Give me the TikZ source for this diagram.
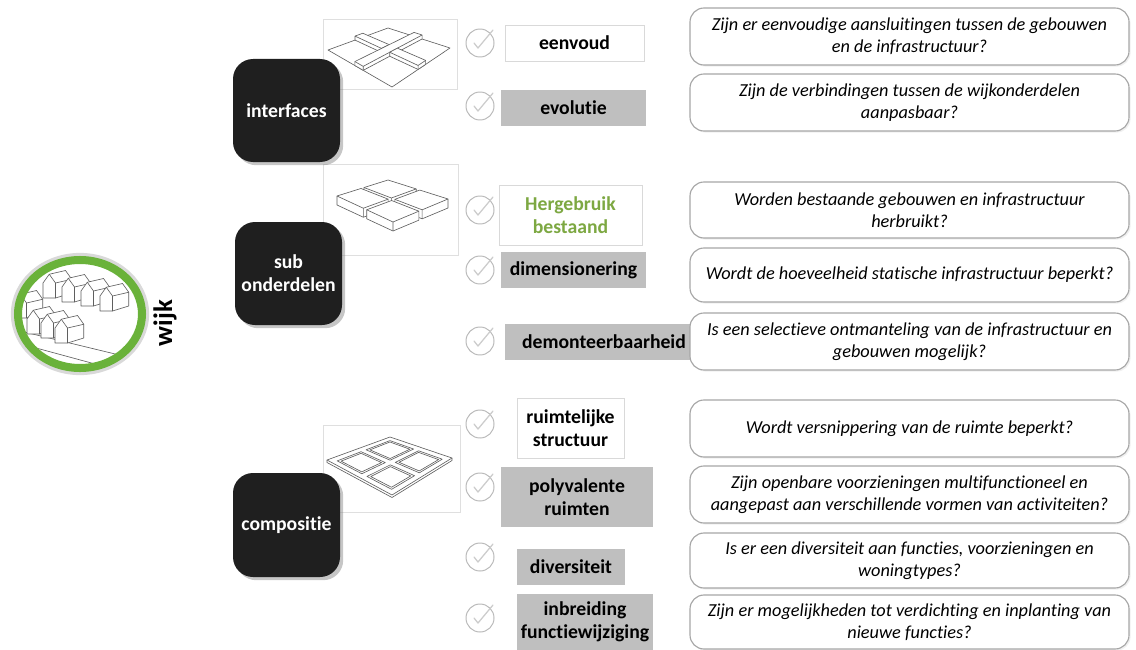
\documentclass[tikz,border=0pt]{standalone}
\usepackage{fontspec}
\setmainfont{Carlito}[Ligatures=NoCommon]
\usetikzlibrary{calc,shadows}
\definecolor{ringgroen}{RGB}{106,178,58}
\definecolor{tekstgroen}{RGB}{125,168,66}
\definecolor{vakgrijs}{RGB}{191,191,191}
\definecolor{lijngrijs}{RGB}{95,95,95}
% point (s,t) on a skewed sketch plane with corners #1L,#1T,#1R,#1B
\newcommand\sk[3]{($($(#1L)!#2!(#1T)$)!#3!($(#1B)!#2!(#1R)$)$)}
% block between foot plane #1 and top plane #2, over s=#3..#5, t=#4..#6
\newcommand\blok[6]{%
  \filldraw[schets,fill=white] \sk{#2}{#3}{#4} -- \sk{#1}{#3}{#4} -- \sk{#1}{#3}{#6} -- \sk{#1}{#5}{#6}
    -- \sk{#2}{#5}{#6} -- \sk{#2}{#5}{#4} -- cycle;
  \draw[schets] \sk{#2}{#3}{#4} -- \sk{#2}{#3}{#6} -- \sk{#2}{#5}{#6} \sk{#2}{#3}{#6} -- \sk{#1}{#3}{#6};}
\begin{document}
\begin{tikzpicture}[x=.025cm,y=-.025cm,line width=.6pt,
  every node/.style={inner sep=0pt,align=center},
  sz/.style 2 args={minimum width=#1*.025cm,minimum height=#2*.025cm},
  hoofd/.style={fill=black!88,rounded corners=.5cm,text=white,font=\fontsize{14}{16.5}\selectfont\bfseries,
    drop shadow={shadow xshift=.08cm,shadow yshift=-.08cm,opacity=.45}},
  crit/.style={font=\fontsize{14}{16.5}\selectfont\bfseries},
  wit/.style={crit,draw=gray!30,fill=white,line width=.5pt},
  grijs/.style={crit,fill=vakgrijs},
  vraag/.style={draw=gray!70,fill=white,rounded corners=.35cm,line width=.8pt,
    font=\fontsize{13}{15.6}\selectfont\itshape,
    drop shadow={shadow xshift=.04cm,shadow yshift=-.04cm,opacity=.12}},
  kader/.style={draw=gray!25,line width=.5pt},
  schets/.style={draw=lijngrijs,line width=.45pt,line join=round},
  vink/.style={circle,draw=gray!55,line width=.7pt,minimum size=28*.025cm},
  vinkje/.style={gray!40,line width=.9pt,line cap=round,line join=round},
  huis/.pic={
    \filldraw[schets,fill=white] (0,0) -- (0,-12) -- (5,-19) -- (18,-22) -- (23,-15) -- (23,-4) -- (10,0) -- cycle;
    \draw[schets] (10,0) -- (10,-12) -- (5,-19) (10,-12) -- (23,-15);}]
  \path[use as bounding box] (0,0) rectangle (1136,650);

  % wijk icon
  \draw[gray!30,line width=3pt] (80,314) ellipse [x radius=67,y radius=59];
  \fill[white] (80,314) ellipse [x radius=62,y radius=54];
  \begin{scope}
    \clip (80,314) ellipse [x radius=62,y radius=54];
    \draw[schets] (16,330) -- (140,360) (14,342) -- (132,374);
    \foreach \p in {(43,298),(62,302),(81,306),(100,311),(14,318),(27,334),(41,338),(55,343)}
      \pic[scale=1.25] at \p {huis};
  \end{scope}
  \draw[ringgroen,line width=5.7pt] (80,314) ellipse [x radius=62,y radius=54];
  \node[rotate=90,font=\fontsize{19}{22}\selectfont\bfseries] (wijk) at (165,323) {wijk};

  % sketch frames
  \draw[kader] (323,19) rectangle (457,89);
  \draw[kader] (323,164) rectangle (458,255);
  \draw[kader] (323,425) rectangle (460,512);

  % crossing strips
  \coordinate (aL) at (328,50); \coordinate (aT) at (388,28);
  \coordinate (aR) at (450,48); \coordinate (aB) at (392,87);
  \foreach \c in {L,T,R,B} \coordinate (b\c) at ($(a\c)+(0,-4)$);
  \draw[schets] (aL) -- (aT) -- (aR) -- (aB) -- cycle;
  \blok{a}{b}{.45}{0}{.58}{.42}
  \blok{a}{b}{0}{.42}{1}{.55}
  \blok{a}{b}{.45}{.55}{.58}{1}

  % four tiles
  \coordinate (cL) at (337,196); \coordinate (cT) at (388,180);
  \coordinate (cR) at (448,199); \coordinate (cB) at (393,222);
  \foreach \c in {L,T,R,B} \coordinate (d\c) at ($(c\c)+(0,9)$);
  \blok{d}{c}{.53}{0}{1}{.47}
  \blok{d}{c}{0}{0}{.47}{.47}
  \blok{d}{c}{.53}{.53}{1}{1}
  \blok{d}{c}{0}{.53}{.47}{1}

  % flat grid
  \coordinate (eL) at (327,460); \coordinate (eT) at (390,437);
  \coordinate (eR) at (452,458); \coordinate (eB) at (392,495);
  \foreach \c in {L,T,R,B} \coordinate (f\c) at ($(e\c)+(0,2.5)$);
  \draw[schets] (eL) -- (eT) -- (eR) -- (eB) -- cycle;
  \draw[schets] (eL) -- (fL) -- (fB) -- (fR) -- (eR);
  \foreach \sa/\ta/\sb/\tb in {.08/.08/.46/.46,.54/.08/.92/.46,.08/.54/.46/.92,.54/.54/.92/.92,
                                .11/.11/.43/.43,.57/.11/.89/.43,.11/.57/.43/.89,.57/.57/.89/.89}
    \draw[schets] \sk{e}{\sa}{\ta} -- \sk{e}{\sb}{\ta} -- \sk{e}{\sb}{\tb} -- \sk{e}{\sa}{\tb} -- cycle;

  % main groups
  \node[hoofd,sz={107}{103}] (interfaces) at (286.5,110.5) {interfaces};
  \node[hoofd,sz={107}{103}] (sub) at (288.5,273.5) {sub\\onderdelen};
  \node[hoofd,sz={107}{104}] (compositie) at (286.5,525) {compositie};

  % check marks
  \foreach \y [count=\i] in {43,106,210,270,341,424,487,557,618} {
    \node[vink] (v\i) at (480,\y) {};
    \draw[vinkje] ($(v\i)+(-6,0)$) -- ($(v\i)+(-2,5)$) -- ($(v\i)+(13,-13)$);
  }

  % criteria
  \node[wit,sz={139}{36}] (eenvoud) at (574.5,43) {eenvoud};
  \node[grijs,sz={145}{36}] (evolutie) at (573.5,108) {evolutie};
  \node[wit,sz={143}{60},text=tekstgroen] (hergebruik) at (570.5,215) {Hergebruik\\bestaand};
  \node[grijs,sz={145}{36}] (dimensionering) at (573.5,270) {dimensionering};
  \node[grijs,sz={198}{36}] (demonteer) at (604,342) {demonteerbaarheid};
  \node[wit,sz={107}{60}] (ruimtelijk) at (570.5,428) {ruimtelijke\\structuur};
  \node[grijs,sz={152}{60}] (polyvalent) at (577,497) {polyvalente\\ruimten};
  \node[grijs,sz={108}{36}] (diversiteit) at (571,567) {diversiteit};
  \node[grijs,sz={136}{56}] (inbreiding) at (585,622) {inbreiding\\functiewijziging};

  % questions
  \node[vraag,sz={439}{57}] (q1) at (909.5,36.5) {Zijn er eenvoudige aansluitingen tussen de gebouwen\\en de infrastructuur?};
  \node[vraag,sz={439}{57}] (q2) at (909.5,102.5) {Zijn de verbindingen tussen de wijkonderdelen\\aanpasbaar?};
  \node[vraag,sz={439}{56}] (q3) at (909.5,210) {Worden bestaande gebouwen en infrastructuur\\herbruikt?};
  \node[vraag,sz={439}{54}] (q4) at (909.5,275) {Wordt de hoeveelheid statische infrastructuur beperkt?};
  \node[vraag,sz={439}{57}] (q5) at (909.5,341.5) {Is een selectieve ontmanteling van de infrastructuur en\\gebouwen mogelijk?};
  \node[vraag,sz={439}{57}] (q6) at (909.5,428.5) {Wordt versnippering van de ruimte beperkt?};
  \node[vraag,sz={439}{57}] (q7) at (909.5,494.5) {Zijn openbare voorzieningen multifunctioneel en\\aangepast aan verschillende vormen van activiteiten?};
  \node[vraag,sz={439}{55}] (q8) at (909.5,560.5) {Is er een diversiteit aan functies, voorzieningen en\\woningtypes?};
  \node[vraag,sz={439}{54}] (q9) at (909.5,622) {Zijn er mogelijkheden tot verdichting en inplanting van\\nieuwe functies?};
\end{tikzpicture}
\end{document}
